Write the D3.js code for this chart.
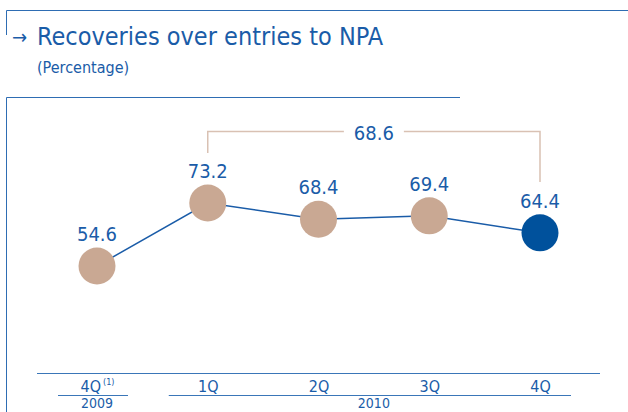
<!DOCTYPE html>
<html>
<head>
<meta charset="utf-8">
<script src="https://cdn.jsdelivr.net/npm/d3@7"></script>
<style>
  body { margin: 0; background: #fff; }
  svg text { font-family: "Liberation Sans Narrow", "DejaVu Sans Condensed", sans-serif; }
</style>
</head>
<body>
<div class="canvas"></div>
<script>
// data
const quarters = ['4Q', '1Q', '2Q', '3Q', '4Q '];
const quarterNotes = ['(1)', '', '', '', ''];
const years = ['2009', '2010'];
const yearSpans = [[0, 0], [1, 4]];
const ratios = [54.6, 73.2, 68.4, 69.4, 64.4];
const yearAverage = 68.6;

const blue = '#1a5ca8';
const darkBlue = '#00519c';
const tan = '#c9a893';
const lightTan = '#d9c1b3';

const svg = d3.select('.canvas')
    .append('svg')
    .attr('width', 628)
    .attr('height', 412);

// frame lines
svg.append('path')
    .attr('d', 'M6.5,35 V10.5 H628')
    .attr('fill', 'none')
    .attr('stroke', '#2e6db3')
    .attr('stroke-width', 1);
svg.append('path')
    .attr('d', 'M6.5,412 V97.5 H460')
    .attr('fill', 'none')
    .attr('stroke', '#2e6db3')
    .attr('stroke-width', 1);

// title
svg.append('text')
    .attr('x', 12)
    .attr('y', 44)
    .attr('font-size', 20)
    .attr('fill', blue)
    .text('→');
svg.append('text')
    .attr('x', 37)
    .attr('y', 45)
    .attr('font-size', 25)
    .attr('fill', blue)
    .text('Recoveries over entries to NPA');
svg.append('text')
    .attr('x', 37)
    .attr('y', 73)
    .attr('font-size', 16)
    .attr('fill', blue)
    .text('(Percentage)');

// scales
const x = d3.scalePoint()
    .domain(quarters)
    .range([97, 540]);

const y = d3.scaleLinear()
    .domain([50, 75])
    .range([281.6, 196.9]);

const cx = (d, i) => x(quarters[i]);

// line
const line = d3.line()
    .x((d, i) => x(quarters[i]))
    .y(d => y(d));

svg.append('path')
    .datum(ratios)
    .attr('d', line)
    .attr('fill', 'none')
    .attr('stroke', blue)
    .attr('stroke-width', 1.5);

// circles
svg.selectAll('circle')
    .data(ratios)
    .enter()
    .append('circle')
    .attr('cx', cx)
    .attr('cy', d => y(d))
    .attr('r', 18.5)
    .attr('fill', (d, i) => i === ratios.length - 1 ? darkBlue : tan);

// value labels
svg.selectAll('.val')
    .data(ratios)
    .enter()
    .append('text')
    .attr('class', 'val')
    .attr('x', cx)
    .attr('y', d => y(d) - 25)
    .attr('text-anchor', 'middle')
    .attr('font-size', 20)
    .attr('fill', blue)
    .text(d => d3.format('.1f')(d));

// bracket for 2010 average
const bx0 = x(quarters[1]);
const bx1 = x(quarters[4]);
const by = 131.5;
const labelX = (bx0 + bx1) / 2;
svg.append('path')
    .attr('d', `M${bx0},153 V${by} H${labelX - 30} M${labelX + 30},${by} H${bx1} V182`)
    .attr('fill', 'none')
    .attr('stroke', lightTan)
    .attr('stroke-width', 1.5);
svg.append('text')
    .attr('x', labelX)
    .attr('y', 140)
    .attr('text-anchor', 'middle')
    .attr('font-size', 20)
    .attr('fill', blue)
    .text(d3.format('.1f')(yearAverage));

// axis
const xAxisGroup = svg.append('g')
    .attr('transform', 'translate(0, 373)');
xAxisGroup.call(d3.axisBottom(x).tickSize(0).tickPadding(0).tickFormat(() => ''));
xAxisGroup.select('.domain')
    .attr('d', 'M37,0.5 H600')
    .attr('stroke', '#3a76b8')
    .attr('stroke-width', 1.2);

const tickText = xAxisGroup.selectAll('.tick')
    .append('text')
    .attr('y', 19)
    .attr('text-anchor', 'middle')
    .attr('font-size', 16)
    .attr('fill', blue);
tickText.append('tspan')
    .text(d => d.trim());
tickText.append('tspan')
    .attr('font-size', 9)
    .attr('dx', 2)
    .attr('dy', -7)
    .text((d, i) => quarterNotes[i]);

// year groups
const yearGroups = svg.selectAll('.year')
    .data(years)
    .enter()
    .append('g')
    .attr('class', 'year');

yearGroups.append('line')
    .attr('x1', (d, i) => x(quarters[yearSpans[i][0]]) - 39)
    .attr('x2', (d, i) => x(quarters[yearSpans[i][1]]) + 31)
    .attr('y1', 395.5)
    .attr('y2', 395.5)
    .attr('stroke', '#3a76b8')
    .attr('stroke-width', 1.2);

yearGroups.append('text')
    .attr('x', (d, i) => (x(quarters[yearSpans[i][0]]) + x(quarters[yearSpans[i][1]])) / 2)
    .attr('y', 407.5)
    .attr('text-anchor', 'middle')
    .attr('font-size', 14)
    .attr('fill', blue)
    .text(d => d);
</script>
</body>
</html>
